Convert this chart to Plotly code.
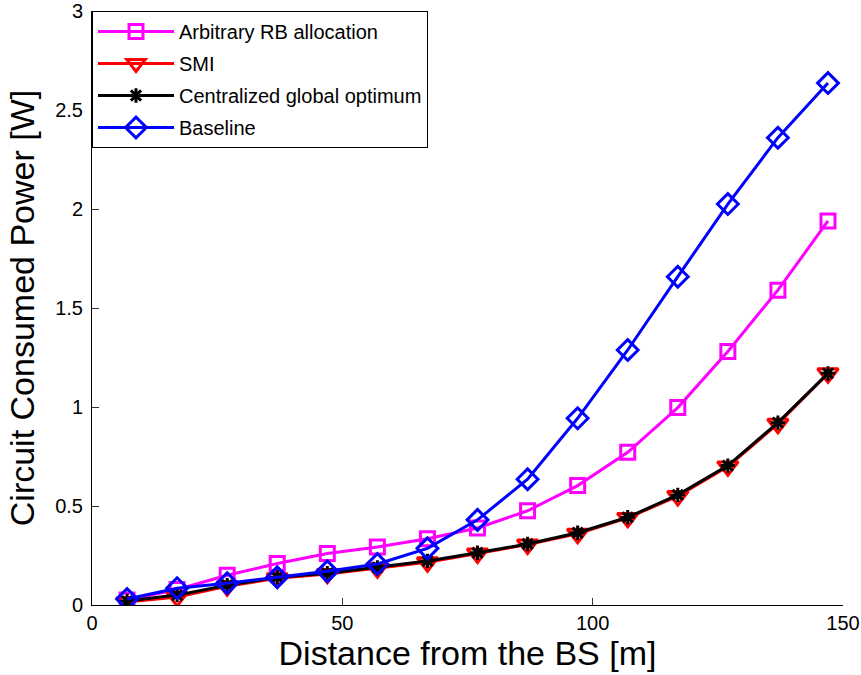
import plotly.graph_objects as go

# Distance from the base station [m]
distance = [7, 17, 27, 37, 47, 57, 67, 77, 87, 97, 107, 117, 127, 137, 147]

# Circuit consumed power [W] for each scheme
arbitrary_rb = [0.025, 0.078, 0.15, 0.21, 0.26, 0.293, 0.335, 0.389, 0.476, 0.603,
                0.771, 0.997, 1.28, 1.59, 1.94]
smi = [0.015, 0.04, 0.095, 0.135, 0.157, 0.185, 0.216, 0.26, 0.305, 0.36,
       0.44, 0.55, 0.70, 0.915, 1.17]
centralized = [0.02, 0.05, 0.10, 0.14, 0.16, 0.19, 0.222, 0.264, 0.308, 0.365,
               0.443, 0.556, 0.704, 0.921, 1.17]
baseline = [0.03, 0.085, 0.11, 0.14, 0.17, 0.207, 0.286, 0.43, 0.635, 0.943,
            1.288, 1.658, 2.025, 2.36, 2.636]

x_ticks = [0, 50, 100, 150]
y_ticks = [0, 0.5, 1, 1.5, 2, 2.5, 3]

FONT = "Arial, Liberation Sans, Helvetica, sans-serif"
LW = 3

fig = go.Figure()

fig.add_trace(go.Scatter(
    x=distance, y=arbitrary_rb, name="Arbitrary RB allocation",
    mode="lines+markers", legendgroup="a",
    line=dict(color="#ff00ff", width=LW),
    marker=dict(symbol="square-open", size=14, color="#ff00ff",
                line=dict(color="#ff00ff", width=LW)),
))
fig.add_trace(go.Scatter(
    x=distance, y=smi, name="SMI",
    mode="lines+markers", legendgroup="b",
    line=dict(color="#ff0000", width=LW),
    marker=dict(symbol="triangle-down-open", size=18, color="#ff0000",
                line=dict(color="#ff0000", width=LW)),
))
fig.add_trace(go.Scatter(
    x=distance, y=centralized, name="Centralized global optimum",
    mode="lines+markers", legendgroup="c",
    line=dict(color="#000000", width=LW),
    marker=dict(symbol="asterisk-open", size=12, color="#000000",
                line=dict(color="#000000", width=LW)),
))
fig.add_trace(go.Scatter(
    x=distance, y=baseline, name="Baseline",
    mode="lines+markers", legendgroup="d",
    line=dict(color="#0000ff", width=LW),
    marker=dict(symbol="diamond-open", size=16, color="#0000ff",
                line=dict(color="#0000ff", width=LW)),
))

axis_common = dict(
    showgrid=False, zeroline=False,
    showline=True, linecolor="#000000", linewidth=1,
    ticks="inside", ticklen=7, tickcolor="#333333", tickwidth=1,
    tickfont=dict(family=FONT, size=20, color="#000000"),
)

fig.update_xaxes(
    range=[0, 150], tickvals=x_ticks, ticktext=[str(v) for v in x_ticks],
    title=dict(text="Distance from the BS [m]",
               font=dict(family=FONT, size=34, color="#000000"), standoff=8),
    **axis_common,
)
fig.update_yaxes(
    range=[0, 3], tickvals=y_ticks, ticktext=[f"{v:g}" for v in y_ticks],
    ticklabelstandoff=4,
    title=dict(text="Circuit Consumed Power [W]",
               font=dict(family=FONT, size=34, color="#000000"), standoff=10),
    **axis_common,
)

fig.update_layout(
    width=861, height=675,
    margin=dict(l=92, r=18, t=11, b=70, autoexpand=False),
    paper_bgcolor="#ffffff", plot_bgcolor="#ffffff",
    font=dict(family=FONT, color="#000000"),
    legend=dict(
        x=0, y=1, xanchor="left", yanchor="top",
        bgcolor="#ffffff", bordercolor="#000000", borderwidth=1,
        font=dict(family=FONT, size=20, color="#000000"),
        itemwidth=76, tracegroupgap=3,
    ),
)

fig.write_html("out.html")
